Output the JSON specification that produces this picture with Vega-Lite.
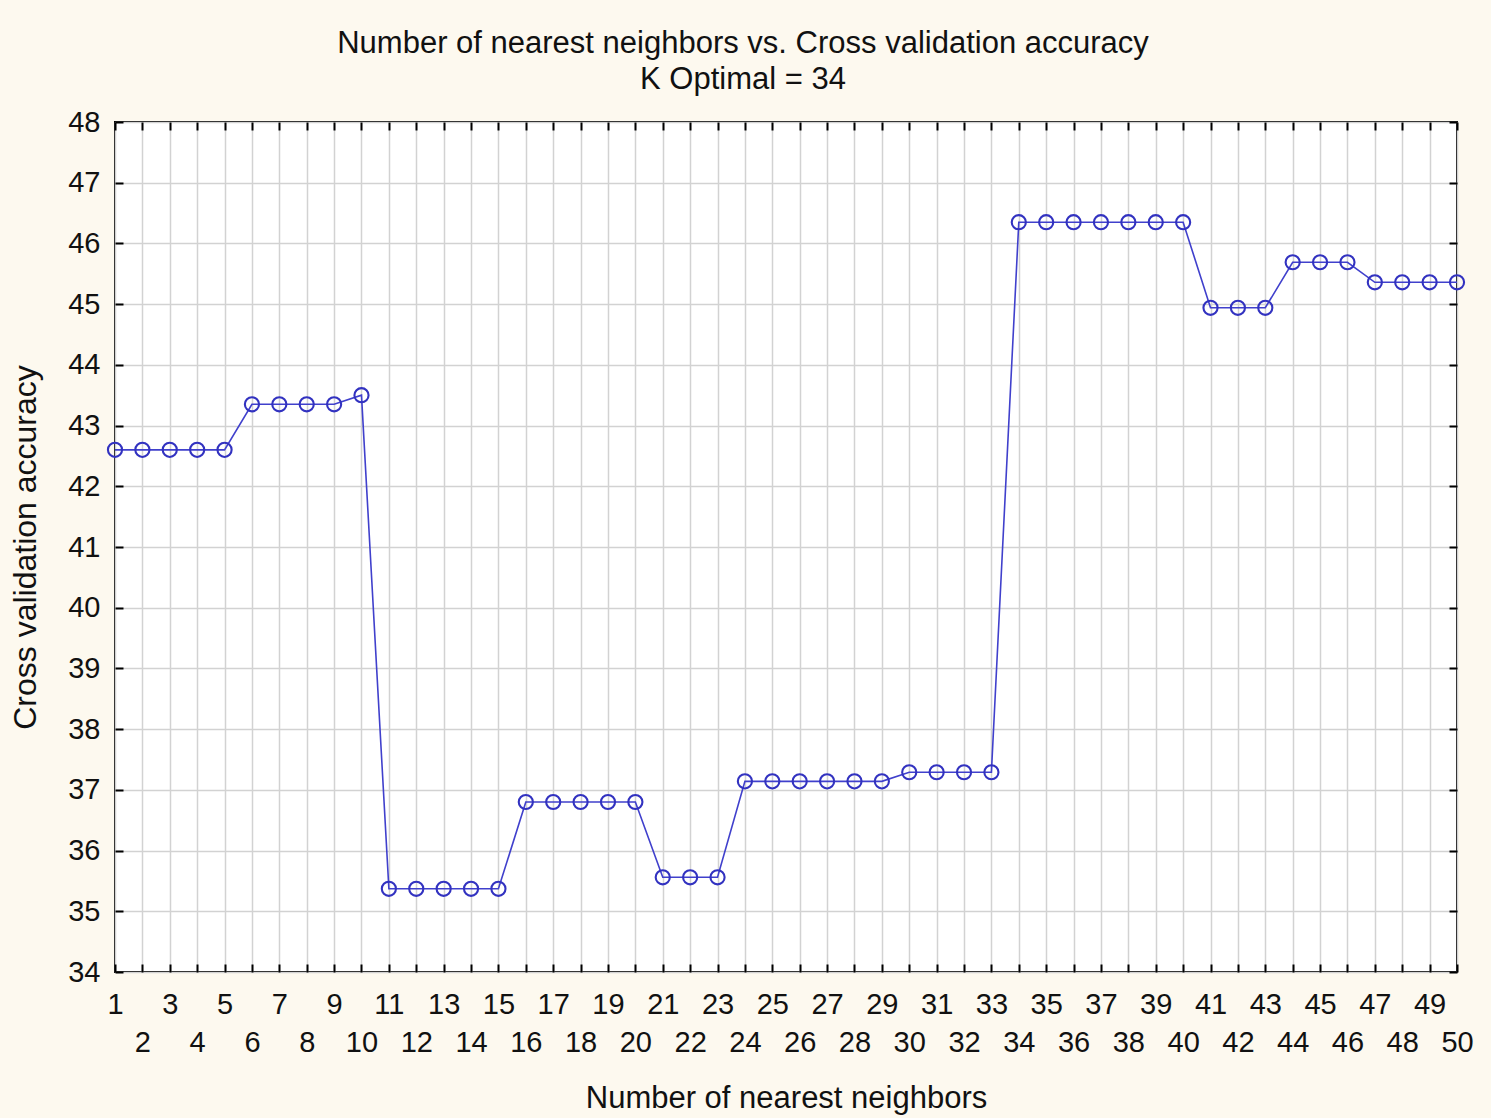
{
  "$schema": "https://vega.github.io/schema/vega-lite/v6.json",
  "width": 1342,
  "height": 850,
  "autosize": "none",
  "padding": {"left": 115, "top": 122, "right": 34, "bottom": 146},
  "background": "#fdf9ef",
  "title": {
    "text": ["Number of nearest neighbors vs. Cross validation accuracy", "K Optimal = 34"],
    "font": "Liberation Sans",
    "fontSize": 31,
    "fontWeight": "normal",
    "color": "#111111",
    "anchor": "middle",
    "dx": -43,
    "offset": 12,
    "lineHeight": 36
  },
  "config": {
    "view": {"fill": "white", "stroke": "black", "strokeWidth": 2},
    "axis": {
      "labelFont": "Liberation Sans",
      "titleFont": "Liberation Sans",
      "labelFontSize": 29,
      "titleFontSize": 31,
      "titleFontWeight": "normal",
      "labelColor": "#111111",
      "titleColor": "#111111",
      "domain": false,
      "tickColor": "black",
      "tickWidth": 2,
      "tickSize": -8,
      "gridColor": "#d2d2d2",
      "gridWidth": 1.5,
      "labelOverlap": false,
      "labelBound": false,
      "labelFlush": false
    }
  },
  "data": {
    "values": [
      {"k": 1, "acc": 42.6}, {"k": 2, "acc": 42.6}, {"k": 3, "acc": 42.6}, {"k": 4, "acc": 42.6}, {"k": 5, "acc": 42.6},
      {"k": 6, "acc": 43.35}, {"k": 7, "acc": 43.35}, {"k": 8, "acc": 43.35}, {"k": 9, "acc": 43.35}, {"k": 10, "acc": 43.5},
      {"k": 11, "acc": 35.37}, {"k": 12, "acc": 35.37}, {"k": 13, "acc": 35.37}, {"k": 14, "acc": 35.37}, {"k": 15, "acc": 35.37},
      {"k": 16, "acc": 36.8}, {"k": 17, "acc": 36.8}, {"k": 18, "acc": 36.8}, {"k": 19, "acc": 36.8}, {"k": 20, "acc": 36.8},
      {"k": 21, "acc": 35.56}, {"k": 22, "acc": 35.56}, {"k": 23, "acc": 35.56},
      {"k": 24, "acc": 37.14}, {"k": 25, "acc": 37.14}, {"k": 26, "acc": 37.14}, {"k": 27, "acc": 37.14}, {"k": 28, "acc": 37.14}, {"k": 29, "acc": 37.14},
      {"k": 30, "acc": 37.29}, {"k": 31, "acc": 37.29}, {"k": 32, "acc": 37.29}, {"k": 33, "acc": 37.29},
      {"k": 34, "acc": 46.35}, {"k": 35, "acc": 46.35}, {"k": 36, "acc": 46.35}, {"k": 37, "acc": 46.35}, {"k": 38, "acc": 46.35}, {"k": 39, "acc": 46.35}, {"k": 40, "acc": 46.35},
      {"k": 41, "acc": 44.94}, {"k": 42, "acc": 44.94}, {"k": 43, "acc": 44.94},
      {"k": 44, "acc": 45.69}, {"k": 45, "acc": 45.69}, {"k": 46, "acc": 45.69},
      {"k": 47, "acc": 45.36}, {"k": 48, "acc": 45.36}, {"k": 49, "acc": 45.36}, {"k": 50, "acc": 45.36}
    ]
  },
  "resolve": {"axis": {"x": "independent", "y": "independent"}},
  "layer": [
    {
      "mark": {"type": "line", "color": "#4040cc", "strokeWidth": 1.6},
      "encoding": {
        "x": {
          "field": "k", "type": "quantitative",
          "scale": {"domain": [1, 50], "nice": false, "zero": false},
          "axis": {
            "orient": "bottom",
            "title": "Number of nearest neighbors",
            "values": [1,2,3,4,5,6,7,8,9,10,11,12,13,14,15,16,17,18,19,20,21,22,23,24,25,26,27,28,29,30,31,32,33,34,35,36,37,38,39,40,41,42,43,44,45,46,47,48,49,50],
            "labelExpr": "datum.value % 2 == 1 ? [datum.label, ''] : ['', datum.label]",
            "labelLineHeight": 38,
            "labelPadding": 26,
            "titlePadding": 26,
            "grid": true
          }
        },
        "y": {
          "field": "acc", "type": "quantitative",
          "scale": {"domain": [34, 48], "nice": false, "zero": false},
          "axis": {
            "orient": "left",
            "title": "Cross validation accuracy",
            "titleFontSize": 32,
            "values": [34,35,36,37,38,39,40,41,42,43,44,45,46,47,48],
            "labelPadding": 23,
            "titlePadding": 25,
            "grid": true
          }
        }
      }
    },
    {
      "mark": {"type": "point", "shape": "circle", "size": 200, "filled": false, "color": "#3232c0", "strokeWidth": 2.1, "opacity": 1},
      "encoding": {
        "x": {
          "field": "k", "type": "quantitative",
          "axis": {
            "orient": "top",
            "title": null,
            "labels": false,
            "grid": false,
            "values": [1,2,3,4,5,6,7,8,9,10,11,12,13,14,15,16,17,18,19,20,21,22,23,24,25,26,27,28,29,30,31,32,33,34,35,36,37,38,39,40,41,42,43,44,45,46,47,48,49,50]
          }
        },
        "y": {
          "field": "acc", "type": "quantitative",
          "axis": {
            "orient": "right",
            "title": null,
            "labels": false,
            "grid": false,
            "values": [34,35,36,37,38,39,40,41,42,43,44,45,46,47,48]
          }
        }
      }
    }
  ]
}
